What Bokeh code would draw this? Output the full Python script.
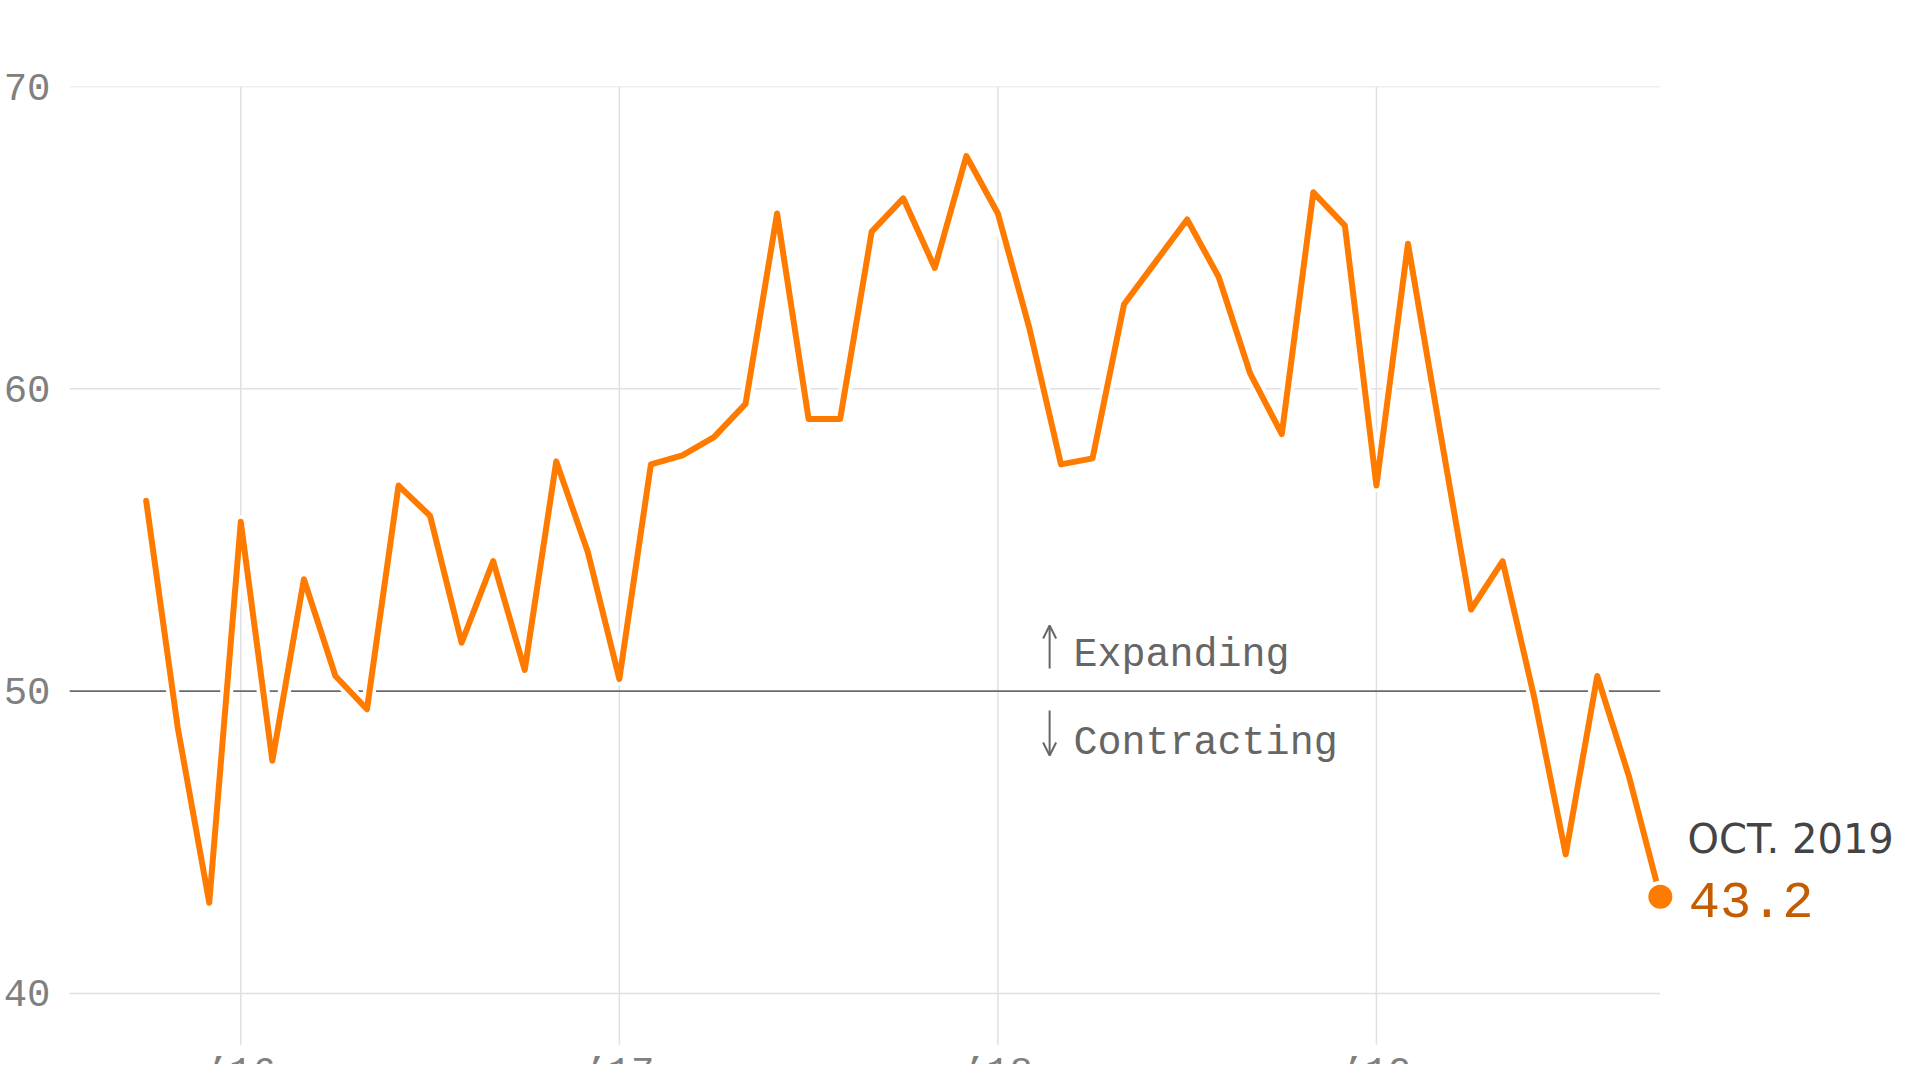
from bokeh.plotting import figure
from bokeh.models import Range1d, FixedTicker, Arrow, OpenHead
from bokeh.embed import file_html
from bokeh.resources import INLINE
from bokeh.core.properties import value

# months counted from Jan 2016 (Oct 2015 .. Oct 2019)
months = list(range(-3, 46))
pmi = [56.3, 48.8, 43.0, 55.6, 47.7, 53.7, 50.5, 49.4, 56.8, 55.8,
       51.6, 54.3, 50.7, 57.6, 54.6, 50.4, 57.5, 57.8, 58.4, 59.5,
       65.8, 59.0, 59.0, 65.2, 66.3, 64.0, 67.7, 65.8, 62.0, 57.5,
       57.7, 62.8, 64.2, 65.6, 63.7, 60.5, 58.5, 66.5, 65.4, 56.8,
       64.8, 58.7, 52.7, 54.3, 49.8, 44.6, 50.5, 47.2, 43.2]

y_ticks = [40, 50, 60, 70]
x_ticks = [0, 12, 24, 36]
x_labels = ["\u201916", "\u201917", "\u201918", "\u201919"]
last_label = "OCT. 2019"
last_value_text = "43.2"

ORANGE = "#ff7b00"
MONO = "Liberation Mono"
GRAY_TXT = "#666666"

p = figure(width=1904, height=1064, output_backend="svg", toolbar_location=None,
           x_range=Range1d(-5.43, 52.74), y_range=Range1d(37.65, 70),
           x_axis_location=None,
           min_border_top=86, min_border_bottom=0, min_border_left=0, min_border_right=0)
p.outline_line_color = None
p.background_fill_color = "white"
p.border_fill_color = "white"
p.grid.grid_line_color = None

ax = p.yaxis[0]
ax.ticker = FixedTicker(ticks=y_ticks)
ax.axis_line_color = None
ax.major_tick_line_color = None
ax.minor_tick_line_color = None
ax.major_tick_out = 0
ax.major_tick_in = 0
ax.major_label_text_font = MONO
ax.major_label_text_font_size = "39px"
ax.major_label_text_color = "#808080"
ax.major_label_standoff = 19

x0 = p.x_range.start
x_end = months[-1]
grid_bottom = 38.3

# horizontal grid (stops at last data month)
gy = [t for t in y_ticks if t != 50]
p.segment(x0=[x0] * len(gy), y0=gy, x1=[x_end] * len(gy), y1=gy,
          line_color="#e0e0e0", line_width=1.5)
# vertical grid
p.segment(x0=x_ticks, y0=[grid_bottom] * len(x_ticks), x1=x_ticks, y1=[70] * len(x_ticks),
          line_color="#e0e0e0", line_width=1.5)
# 50 reference line
p.segment(x0=[x0], y0=[50], x1=[x_end], y1=[50], line_color="#6a6a6a", line_width=1.6)

# series with white halo
p.line(months, pmi, line_color="white", line_width=13, line_join="round", line_cap="round")
p.line(months, pmi, line_color=ORANGE, line_width=6, line_join="round", line_cap="round")
p.scatter([months[-1]], [pmi[-1]], size=28, fill_color=ORANGE, line_color="white", line_width=4)

# x tick labels (cut at the bottom as in the original)
p.text(x=x_ticks, y=[38.05] * len(x_ticks), text=x_labels, text_font=value(MONO),
       text_font_size="39px", text_color="#808080", text_align="center", text_baseline="top")

# expanding / contracting
p.add_layout(Arrow(end=OpenHead(size=13, line_width=2, line_color=GRAY_TXT),
                   x_start=25.64, y_start=50.75, x_end=25.64, y_end=52.17,
                   line_width=2, line_color=GRAY_TXT))
p.add_layout(Arrow(end=OpenHead(size=13, line_width=2, line_color=GRAY_TXT),
                   x_start=25.64, y_start=49.36, x_end=25.64, y_end=47.87,
                   line_width=2, line_color=GRAY_TXT))
p.text(x=[26.40], y=[51.18], text=["Expanding"], text_font=value(MONO),
       text_font_size="40px", text_color=GRAY_TXT, text_align="left", text_baseline="alphabetic")
p.text(x=[26.40], y=[48.27], text=["Contracting"], text_font=value(MONO),
       text_font_size="40px", text_color=GRAY_TXT, text_align="left", text_baseline="alphabetic")

# last value label
p.text(x=[45.86], y=[45.11], text=[last_label], text_font=value("DejaVu Sans"),
       text_font_size="40px", text_color="#444444", text_align="left", text_baseline="alphabetic")
p.text(x=[45.90], y=[43.10], text=[last_value_text], text_font=value(MONO),
       text_font_size="52px", text_color="#c45c00", text_align="left", text_baseline="alphabetic")

open("out.html", "w").write(file_html(p, INLINE))
